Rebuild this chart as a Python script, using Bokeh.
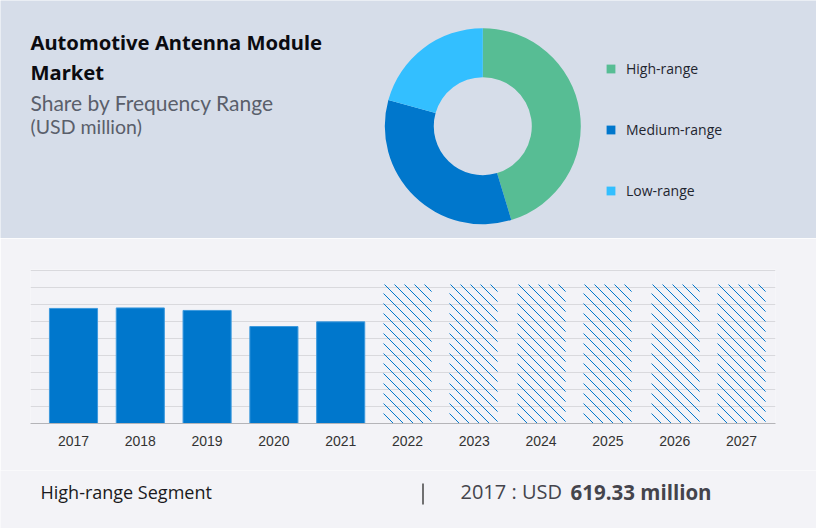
from math import pi, floor
from bokeh.core.properties import value
from bokeh.embed import file_html
from bokeh.resources import INLINE
from bokeh.layouts import column
from bokeh.models import ColumnDataSource, FixedTicker, Legend, LegendItem, Range1d
from bokeh.plotting import figure

segments = ["High-range", "Medium-range", "Low-range"]
shares = [45.3, 34.0, 20.7]
segment_colors = ["#57bd94", "#0077cc", "#33bfff"]

actual_years = [2017, 2018, 2019, 2020, 2021]
actual_values = [619.33, 622, 608.5, 522, 547]
forecast_years = [2022, 2023, 2024, 2025, 2026, 2027]
forecast_values = [748, 748, 748, 748, 748, 748]
grid_values = [0, 91.5, 183, 274.5, 366, 457.5, 549, 640.5, 732, 823.5]

TOP_BG, BOTTOM_BG = "#d6dde9", "#f3f3f7"
BASELINE_FIX = 9  # svg text glyphs sit this far below the requested baseline


def panel(height, ymin, ymax):
    """Full-width panel whose data coordinates equal reference pixels."""
    p = figure(width=816, height=height, x_range=Range1d(0, 816), y_range=Range1d(ymax, ymin),
               output_backend="svg", toolbar_location=None, min_border=0, frame_align=False,
               outline_line_color=None)
    p.axis.visible = False
    p.grid.visible = False
    return p


def write(p, rows):
    for txt, x, y, font, size, style, color in rows:
        p.text(x=[x], y=[y - BASELINE_FIX], text=[txt], text_font=value(font), text_font_size=size,
               text_font_style=style, text_color=color, text_baseline="alphabetic", text_align="left")


# ---------- top band ----------
top = panel(238, 0, 238)
top.background_fill_color = top.border_fill_color = TOP_BG

total = sum(shares)
starts, ends, acc = [], [], 0.0
for s in shares:
    starts.append(pi / 2 - acc / total * 2 * pi)
    acc += s
    ends.append(pi / 2 - acc / total * 2 * pi)
donut = ColumnDataSource(dict(x=[482.3] * 3, y=[125.7] * 3, start=starts, end=ends,
                              color=segment_colors, name=segments))
r = top.annular_wedge(x="x", y="y", inner_radius=49, outer_radius=98,
                      inner_radius_units="screen", outer_radius_units="screen",
                      start_angle="start", end_angle="end", direction="clock",
                      fill_color="color", line_color=None, source=donut)
legend = Legend(items=[LegendItem(label=segments[i], renderers=[r], index=i) for i in range(3)],
                location=(605, 38), orientation="vertical", background_fill_alpha=0,
                border_line_color=None, glyph_width=11, glyph_height=11, label_height=20,
                spacing=41, margin=0, padding=0, label_standoff=10,
                label_text_font="Open Sans", label_text_font_size="14px", label_text_color="#1f2530")
top.add_layout(legend, "center")

write(top, [
    ("Automotive Antenna Module", 30, 50, "Noto Sans", "20.2px", "bold", "#0b0b10"),
    ("Market", 30, 80, "Noto Sans", "20.2px", "bold", "#0b0b10"),
    ("Share by Frequency Range", 30, 111, "Lato", "21px", "normal", "#5a5f6b"),
    ("(USD million)", 30, 135, "Lato", "19.5px", "normal", "#5a5f6b"),
])

# ---------- bar band ----------
units_per_px = (grid_values[-1] / 153)
years_per_px = 1 / 66.8
step_left = 43 / 66.8
step_right = 34 / 66.8
BAR_WIDTH = 0.72
x_start = actual_years[0] - step_left
bottom = figure(width=816, height=232,
                x_range=Range1d(x_start, forecast_years[-1] + step_right),
                y_range=Range1d(grid_values[0], grid_values[-1] + units_per_px),
                output_backend="svg", toolbar_location=None, frame_align=False,
                min_border_left=30, min_border_right=41, min_border_top=31, min_border_bottom=47,
                background_fill_color=BOTTOM_BG, border_fill_color=BOTTOM_BG, outline_line_color=None)
bottom.vbar(x=actual_years, top=actual_values, width=BAR_WIDTH, fill_color="#0077cc",
            line_color="#3d9ade", line_width=1)
bottom.vbar(x=forecast_years, top=forecast_values, width=BAR_WIDTH, fill_color=None, line_color=None)

# 45-degree hatching clipped to each forecast bar, 10 px apart; every bar starts on an
# odd pixel so that all bars rasterise with the same phase
hatch_xs, hatch_ys = [], []
for yr, val in zip(forecast_years, forecast_values):
    w_px = BAR_WIDTH / years_per_px
    h_px = val / units_per_px
    left_px = 2 * floor((yr - BAR_WIDTH / 2 - x_start) / years_per_px / 2) + 1
    left = x_start + left_px * years_per_px
    c = -round(h_px)
    while c < w_px:
        u0, u1 = max(0, c), min(w_px, c + h_px)
        if u1 > u0:
            hatch_xs.append([left + u0 * years_per_px, left + u1 * years_per_px])
            hatch_ys.append([val - (u0 - c) * units_per_px, val - (u1 - c) * units_per_px])
        c += 10
bottom.multi_line(xs=hatch_xs, ys=hatch_ys, line_color="#0077cc", line_width=1)

bottom.yaxis.visible = False
bottom.xgrid.visible = False
bottom.ygrid.ticker = FixedTicker(ticks=grid_values)
bottom.ygrid.grid_line_color = "#d9d9dd"
bottom.ygrid.grid_line_width = 1
xa = bottom.xaxis[0]
xa.ticker = FixedTicker(ticks=actual_years + forecast_years)
xa.major_tick_line_color = None
xa.minor_tick_line_color = None
xa.axis_line_color = "#b4b4b8"
xa.major_label_text_font = "Liberation Sans"
xa.major_label_text_font_size = "14px"
xa.major_label_text_color = "#333333"
xa.major_label_standoff = 6

# ---------- footer ----------
footer = panel(58, 470, 528)
footer.background_fill_color = footer.border_fill_color = BOTTOM_BG
footer.segment(x0=[422.5], y0=[483], x1=[422.5], y1=[504], line_color="#444444", line_width=1.5)
write(footer, [
    ("High-range Segment", 40, 500, "Open Sans", "18px", "normal", "#1a1a20"),
    ("2017 : USD", 460, 500, "Open Sans", "20px", "normal", "#44444c"),
    ("619.33 million", 570, 500, "Open Sans", "20.5px", "bold", "#44444c"),
])

page = column(top, bottom, footer, spacing=0)
open("out.html", "w").write(file_html(page, INLINE))
